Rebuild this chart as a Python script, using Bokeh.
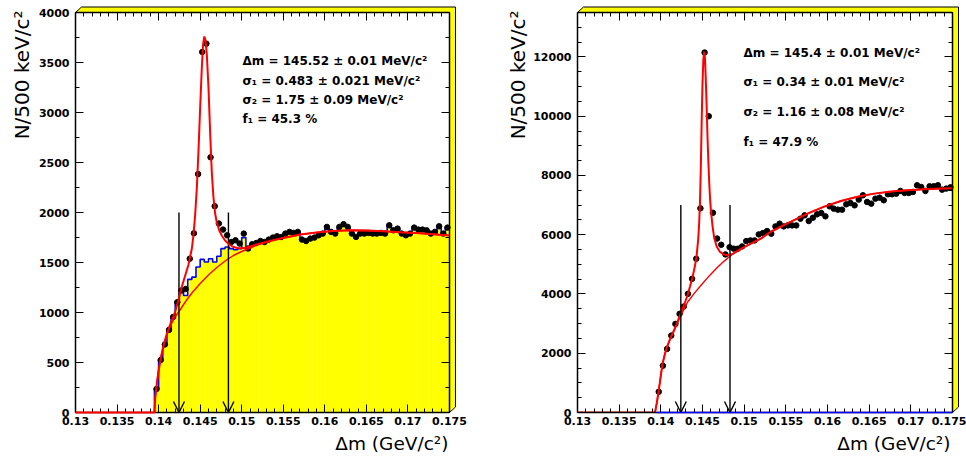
import math
from bokeh.plotting import figure
from bokeh.layouts import row
from bokeh.models import (FixedTicker, LinearAxis, Label, Arrow, OpenHead, Title, Range1d)
from bokeh.embed import file_html
from bokeh.resources import INLINE

# ---------------- data ----------------
BIN_WIDTH = 0.0005
FIRST_EDGE = 0.1395
N_BINS = 71
bin_centers = [round(FIRST_EDGE + BIN_WIDTH * (i + 0.5), 6) for i in range(N_BINS)]
bin_left = [round(FIRST_EDGE + BIN_WIDTH * i, 6) for i in range(N_BINS)]
bin_right = [round(FIRST_EDGE + BIN_WIDTH * (i + 1), 6) for i in range(N_BINS)]

left_counts = [235, 525, 680, 826, 955, 1103, 1220, 1235, 1538, 1792,
               2384, 3605, 3688, 2552, 2063, 1890, 1829, 1772, 1705, 1722,
               1689, 1789, 1640,
               1682, 1695, 1715, 1705, 1729, 1749, 1762, 1755, 1789, 1806,
               1796, 1806, 1729, 1715, 1739, 1749, 1772, 1789, 1856, 1806,
               1789, 1856, 1883, 1856, 1789, 1756, 1789, 1789, 1796, 1789,
               1789, 1796, 1789, 1872, 1822, 1839, 1789, 1772, 1789, 1849,
               1829, 1829, 1822, 1789, 1806, 1862, 1789, 1849]

left_hist = [235, 525, 680, 826, 955, 1103, 1238, 1170, 1331, 1354,
             1455, 1531, 1505, 1538, 1505, 1562, 1639, 1655, 1639, 1628,
             1639, 1749, 1622,
             1682, 1695, 1715, 1705, 1729, 1749, 1762, 1755, 1789, 1806,
             1796, 1806, 1729, 1715, 1739, 1749, 1772, 1789, 1856, 1806,
             1789, 1856, 1883, 1856, 1789, 1756, 1789, 1789, 1796, 1789,
             1789, 1796, 1789, 1872, 1822, 1839, 1789, 1772, 1789, 1849,
             1829, 1829, 1822, 1789, 1806, 1862, 1789, 1849]

right_counts = [700, 1580, 2145, 2595, 2990, 3329, 3575, 4005, 4513, 5190,
                6890, 12150, 10000, 6740, 5870, 5660, 5335, 5580, 5530, 5530,
                5605, 5785, 5808, 5808, 6011, 6055, 6123, 6034, 6281, 6372,
                6281, 6315, 6315, 6315, 6541, 6653, 6462, 6574, 6688, 6733,
                6620, 6958, 6880, 6846, 6846, 7026, 7071, 6992, 7185, 7331,
                7105, 7049, 7218, 7252, 7162, 7365, 7365, 7387, 7477, 7410,
                7410, 7443, 7669, 7612, 7477, 7635, 7635, 7669, 7522, 7556,
                7600]
right_hist = [0] * N_BINS

# fitted curves (x in GeV/c^2, y in entries)
left_fit_x = [0.1300, 0.1395, 0.1396, 0.1398, 0.1400, 0.1403, 0.1406, 0.1410, 0.1415,
              0.1420, 0.1424, 0.1428, 0.1432, 0.1436, 0.1440, 0.1442, 0.1444, 0.1446,
              0.1448, 0.1450, 0.1452, 0.14535, 0.1455, 0.14565, 0.1458, 0.1460, 0.1462,
              0.1464, 0.1466, 0.1468, 0.1470, 0.1473, 0.1476, 0.1480, 0.1485, 0.1490,
              0.1495, 0.1500, 0.1505, 0.1510, 0.1520, 0.1535, 0.1550, 0.1570, 0.1590,
              0.1610, 0.1630, 0.1650, 0.1670, 0.1690, 0.1710, 0.1730, 0.1750]
left_fit_y = [0, 0, 150, 300, 420, 560, 675, 790, 905,
              1010, 1130, 1260, 1370, 1480, 1640, 1780, 1980, 2250,
              2620, 3050, 3450, 3680, 3760, 3720, 3580, 3250, 2800,
              2400, 2150, 1990, 1900, 1820, 1770, 1720, 1680, 1655,
              1645, 1642, 1648, 1660, 1685, 1717, 1746, 1779, 1800,
              1815, 1822, 1820, 1813, 1803, 1795, 1783, 1770]
left_bkg_x = [0.1395, 0.1396, 0.1398, 0.1400, 0.1403, 0.1406, 0.1410, 0.1415, 0.1420,
              0.1425, 0.1430, 0.1435, 0.1440, 0.1450, 0.1460, 0.1470, 0.1480, 0.1490,
              0.1500, 0.1510, 0.1520, 0.1535, 0.1550, 0.1570, 0.1590, 0.1610, 0.1630,
              0.1650, 0.1670, 0.1690, 0.1710, 0.1730, 0.1750]
left_bkg_y = [0, 150, 300, 420, 560, 670, 780, 880, 960,
              1015, 1080, 1140, 1195, 1290, 1375, 1450, 1515, 1570,
              1610, 1645, 1680, 1715, 1745, 1778, 1800, 1815, 1822,
              1820, 1813, 1803, 1795, 1783, 1770]

right_fit_x = [0.1300, 0.1393, 0.1395, 0.1397, 0.1398, 0.1400, 0.1402, 0.1405, 0.1408, 0.1412,
               0.1416, 0.1420, 0.1423, 0.1426, 0.1429, 0.1432, 0.1435, 0.1438, 0.1441,
               0.1443, 0.1445, 0.1446, 0.1447, 0.1448, 0.1449, 0.1450, 0.1451, 0.1452,
               0.1453, 0.1454, 0.1455, 0.1456, 0.1457, 0.1458, 0.1459, 0.1460, 0.1462,
               0.1464, 0.1467, 0.1471, 0.1476, 0.1481, 0.1486, 0.1490, 0.1496, 0.1508,
               0.1520, 0.1532, 0.1550, 0.1576, 0.1596, 0.1616, 0.1636, 0.1656, 0.1676,
               0.1696, 0.1716, 0.1736, 0.1750]
right_fit_y = [0, 0, 300, 650, 846, 1250, 1637, 1990, 2256, 2540,
               2790, 3060, 3290, 3500, 3720, 3950, 4250, 4560, 4950,
               5300, 5900, 6400, 7100, 8300, 9800, 11100, 11900, 12180,
               11950, 11200, 10300, 9300, 8500, 7800, 7250, 6850, 6300,
               5900, 5600, 5420, 5330, 5310, 5350, 5420, 5525, 5697,
               5870, 6100, 6360, 6711, 6950, 7138, 7280, 7387, 7455,
               7500, 7535, 7556, 7565]
right_bkg_x = [0.1393, 0.1395, 0.1397, 0.1398, 0.1400, 0.1402, 0.1405, 0.1408, 0.1412,
               0.1416, 0.1420, 0.1424, 0.1428, 0.1432, 0.1440, 0.1448, 0.1458, 0.1468,
               0.1476, 0.1484, 0.1496, 0.1508, 0.1520, 0.1532, 0.1550, 0.1576, 0.1596,
               0.1616, 0.1636, 0.1656, 0.1676, 0.1696, 0.1716, 0.1736, 0.1750]
right_bkg_y = [0, 300, 650, 846, 1250, 1637, 1990, 2256, 2530,
               2764, 3030, 3271, 3500, 3721, 4020, 4286, 4610, 4905,
               5110, 5301, 5520, 5697, 5870, 6100, 6360, 6711, 6950,
               7138, 7280, 7387, 7455, 7500, 7535, 7556, 7565]

# signal window arrows
window_left = [0.14245, 0.1484]
window_right = [0.1424, 0.1483]
arrow_top_left = 2000
arrow_top_right = 7000

# ticks
x_ticks = [0.13, 0.135, 0.14, 0.145, 0.15, 0.155, 0.16, 0.165, 0.17, 0.175]
x_tick_labels = ["0.13", "0.135", "0.14", "0.145", "0.15", "0.155", "0.16", "0.165", "0.17", "0.175"]
x_minor = [round(0.13 + 0.001 * k, 4) for k in range(46)]
left_y_ticks = [0, 500, 1000, 1500, 2000, 2500, 3000, 3500, 4000]
left_y_labels = ["0", "500", "1000", "1500", "2000", "2500", "3000", "3500", "4000"]
left_y_minor = [250 * k for k in range(17)]
right_y_ticks = [0, 2000, 4000, 6000, 8000, 10000, 12000]
right_y_labels = ["0", "2000", "4000", "6000", "8000", "10000", "12000"]
right_y_minor = [500 * k for k in range(28)]

left_texts = ["Δm = 145.52 ± 0.01 MeV/c²", "σ₁ = 0.483 ± 0.021 MeV/c²",
              "σ₂ = 1.75 ± 0.09 MeV/c²", "f₁ = 45.3 %"]
right_texts = ["Δm = 145.4 ± 0.01 MeV/c²", "σ₁ = 0.34 ± 0.01 MeV/c²",
               "σ₂ = 1.16 ± 0.08 MeV/c²", "f₁ = 47.9 %"]
y_title = "N/500 keV/c²"
x_title = "Δm (GeV/c²)"

# ---------------- styling ----------------
X0, X1 = 0.13, 0.175
FIG_H = 458
FRAME_H = 400          # pixel height of the data area
PLOT_TOP = 12          # pixel y of the data area's top edge
STRIP_X, STRIP_Y = 6, 5.5   # yellow 3D border thickness (px)
EXT_X, EXT_Y = 7, 7         # extra frame room for the border (px)
TICK_FONT = "DejaVu Sans"
YELLOW = "#ffff00"


def style_axis(ax, ticks, labels, minor, bounds, show_labels, standoff):
    ax.ticker = FixedTicker(ticks=ticks, minor_ticks=minor)
    ax.bounds = bounds
    ax.major_tick_in = 8
    ax.major_tick_out = 0
    ax.minor_tick_in = 4
    ax.minor_tick_out = 0
    ax.axis_line_width = 1.5
    ax.axis_line_color = "black"
    ax.major_tick_line_width = 1
    ax.minor_tick_line_width = 1
    ax.major_label_text_font = TICK_FONT
    ax.major_label_text_font_style = "bold"
    if show_labels:
        ax.major_label_overrides = {t: l for t, l in zip(ticks, labels)}
        ax.major_label_text_color = "black"
        ax.major_label_text_font_size = "11px"
        ax.major_label_standoff = standoff
    else:
        ax.major_label_text_color = None
        ax.major_label_text_font_size = "1px"
        ax.major_label_standoff = 0


def make_panel(width, border_left, plot_w, y_end, y_ticks, y_labels, y_minor,
               counts, hist, fill_hist, fit_x, fit_y, bkg_x, bkg_y, window, arrow_top,
               texts, text_px, text_rows_px, xtitle_offset, ytitle_standoff):
    xs = (X1 - X0) / plot_w      # data units per pixel
    ys = y_end / FRAME_H
    frame_w = plot_w + EXT_X
    x_end = X1 + EXT_X * xs
    y_top = y_end + EXT_Y * ys
    border_right = width - border_left - frame_w
    p = figure(width=width, height=FIG_H, x_range=Range1d(X0, x_end), y_range=Range1d(0, y_top),
               output_backend="svg", toolbar_location=None,
               min_border_left=border_left, min_border_right=border_right,
               min_border_top=PLOT_TOP - EXT_Y,
               min_border_bottom=FIG_H - PLOT_TOP - FRAME_H)
    p.grid.visible = False
    p.outline_line_color = None
    p.background_fill_color = "white"
    p.border_fill_color = "white"

    # yellow 3D border of the ROOT frame (L-shaped strip above and right of the data area)
    dx, dy = STRIP_X * xs, STRIP_Y * ys
    p.patch(x=[X0, X0 + dx, X1 + dx, X1 + dx, X1, X1],
            y=[y_end, y_end + dy, y_end + dy, dy, 0, y_end],
            fill_color=YELLOW, line_color="black", line_width=1)

    style_axis(p.xaxis[0], x_ticks, x_tick_labels, x_minor, (X0, X1), True, 4)
    style_axis(p.yaxis[0], y_ticks, y_labels, y_minor, (0, y_end), True, 6)
    top = LinearAxis(fixed_location=y_end)
    style_axis(top, x_ticks, x_tick_labels, x_minor, (X0, X1), False, 0)
    p.add_layout(top, "above")
    right = LinearAxis(fixed_location=X1)
    style_axis(right, y_ticks, y_labels, y_minor, (0, y_end), False, 0)
    p.add_layout(right, "right")

    # histogram
    if fill_hist:
        p.quad(left=bin_left, right=bin_right, bottom=0, top=hist,
               fill_color=YELLOW, line_color=YELLOW, line_width=0.6)
    step_x = [bin_left[0]] + bin_left + [bin_right[-1]]
    step_y = [0] + hist + [hist[-1]]
    p.step(x=step_x, y=step_y, mode="after", line_color="#0000ff", line_width=1.6,
           level="glyph" if fill_hist else "overlay")

    # arrows marking the signal window
    for xw in window:
        p.add_layout(Arrow(end=OpenHead(size=11, line_width=1.4, line_color="black"),
                           x_start=xw, y_start=arrow_top, x_end=xw, y_end=0,
                           line_width=1.4, line_color="black"))

    # data points
    p.scatter(bin_centers, counts, size=5.5, color="black")

    # fit curves (drawn last, as ROOT does)
    p.line(bkg_x, bkg_y, line_color="#ff0000", line_width=1.4)
    p.line(fit_x, fit_y, line_color="#ff0000", line_width=2,
           level="overlay" if fill_hist else "glyph")

    # fit parameters text
    for t, rpx in zip(texts, text_rows_px):
        p.add_layout(Label(x=X0 + text_px * xs, y=y_end - rpx * ys, text=t,
                           text_font="DejaVu Sans", text_font_style="bold",
                           text_font_size="12px", text_baseline="middle",
                           text_align="left", text_color="black"))

    # axis titles (ROOT style, at the end of the axes)
    p.add_layout(Title(text=x_title, align="right", offset=xtitle_offset + EXT_X, standoff=6,
                       text_font="DejaVu Sans", text_font_size="18.5px",
                       text_font_style="normal", text_color="black"), "below")
    p.add_layout(Title(text=y_title, align="right", offset=EXT_Y - 2, standoff=ytitle_standoff,
                       text_font="DejaVu Sans", text_font_size="20px",
                       text_font_style="normal", text_color="black"), "left")
    return p


left = make_panel(490, 75, 374, 4000, left_y_ticks, left_y_labels, left_y_minor,
                  left_counts, left_hist, True, left_fit_x, left_fit_y,
                  left_bkg_x, left_bkg_y, window_left, arrow_top_left,
                  left_texts, 167, [48, 68, 87, 106], 1, 4)
right = make_panel(476, 87, 375, 13500, right_y_ticks, right_y_labels, right_y_minor,
                   right_counts, right_hist, False, right_fit_x, right_fit_y,
                   right_bkg_x, right_bkg_y, window_right, arrow_top_right,
                   right_texts, 166, [40, 69, 99, 129], 2, 2)

layout = row(left, right)
open("out.html", "w").write(file_html(layout, INLINE))
